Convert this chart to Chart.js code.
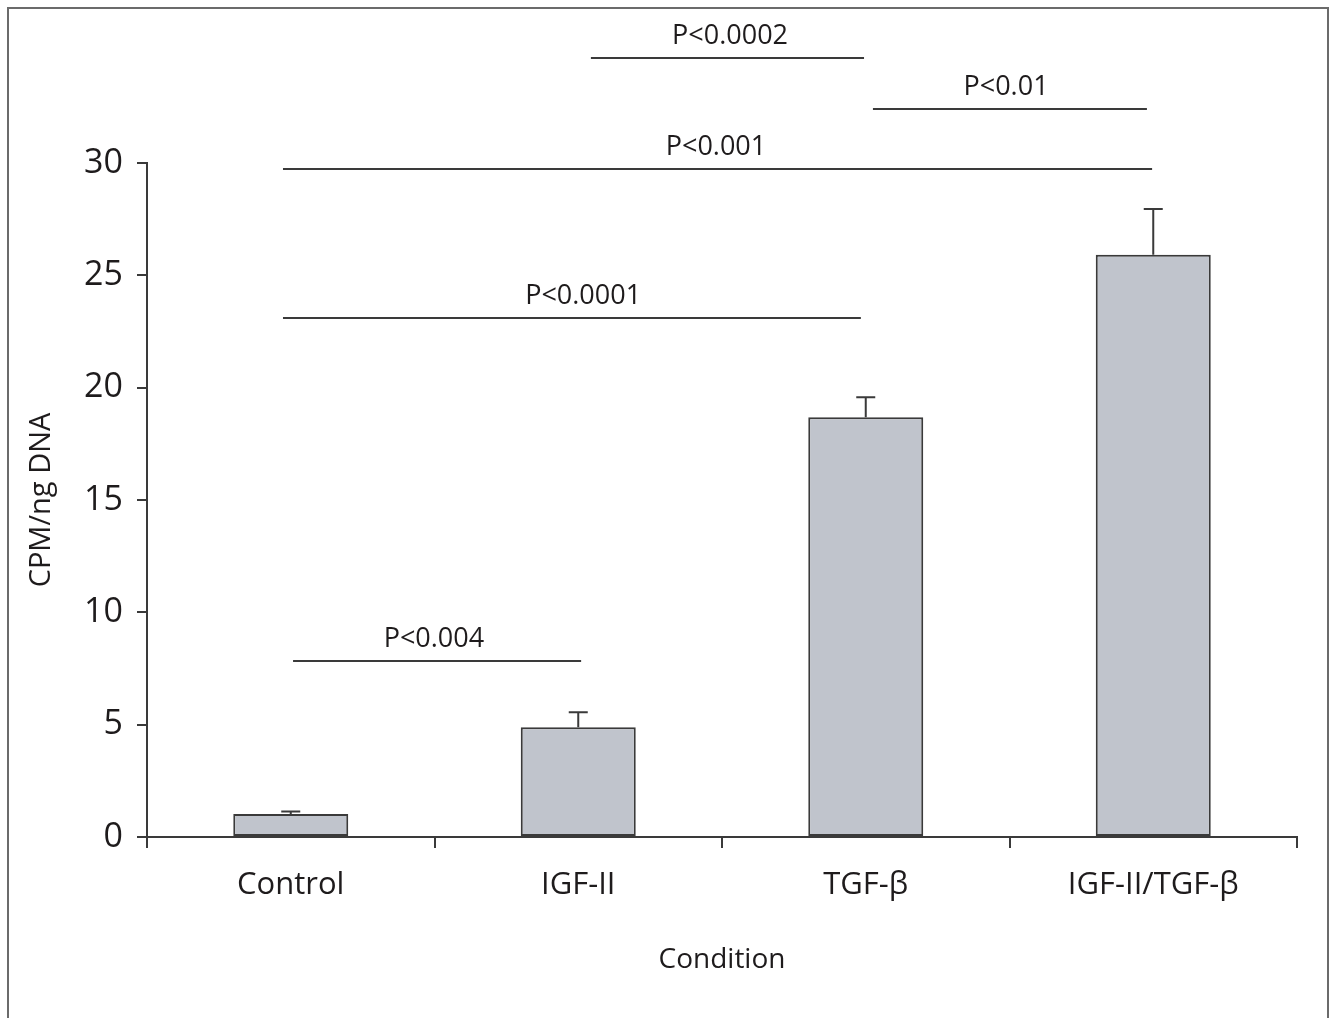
<!DOCTYPE html>
<html>
<head>
<meta charset="utf-8">
<title>CPM/ng DNA by condition</title>
<script src="https://cdn.jsdelivr.net/npm/chart.js@4/dist/chart.umd.min.js"></script>
<style>
  html, body { margin: 0; padding: 0; background: #ffffff; }
  #wrap { width: 1336px; height: 1018px; position: relative; }
</style>
</head>
<body>
<div id="wrap"><canvas id="c"></canvas></div>
<script>
// Conditions and measured means (CPM per ng DNA) with their upper error (SEM)
const conditions = ['Control', 'IGF-II', 'TGF-\u03B2', 'IGF-II/TGF-\u03B2'];
const means = [1.02, 4.88, 18.68, 25.92];
const sem = [0.12, 0.67, 0.89, 2.03];

// Significance brackets: start/end in category units, height in data units
const bracketLabels = ['P<0.004', 'P<0.0001', 'P<0.001', 'P<0.01', 'P<0.0002'];
const bracketFrom = [0.008, -0.027, -0.027, 2.025, 1.044];
const bracketTo = [1.010, 1.983, 2.996, 2.978, 1.994];
const bracketLevel = [7.83, 23.10, 29.75, 32.39, 34.69];
const bracketLabelAt = [0.498, 1.017, 1.479, 2.488, 1.528];

const yTicks = [0, 5, 10, 15, 20, 25, 30];

const FONT = '"Open Sans", "Noto Sans", sans-serif';
const INK = '#1e1b1c';
const LINE = '#3a3a3a';

const framePlugin = {
  id: 'frame',
  beforeDraw(chart) {
    const ctx = chart.ctx;
    ctx.save();
    ctx.fillStyle = '#ffffff';
    ctx.fillRect(0, 0, chart.width, chart.height);
    ctx.strokeStyle = '#6b6b6b';
    ctx.lineWidth = 2;
    ctx.strokeRect(8, 8, 1320, 1030);
    ctx.restore();
  }
};

const annotationsPlugin = {
  id: 'errorsAndBrackets',
  afterDatasetsDraw(chart) {
    const ctx = chart.ctx;
    const x = chart.scales.x;
    const y = chart.scales.y;
    const meta = chart.getDatasetMeta(0);
    ctx.save();
    ctx.strokeStyle = LINE;
    ctx.lineWidth = 2;
    // upper error whiskers with caps
    meta.data.forEach((bar, i) => {
      const top = y.getPixelForValue(means[i]);
      const tip = y.getPixelForValue(means[i] + sem[i]);
      ctx.beginPath();
      ctx.moveTo(bar.x, top);
      ctx.lineTo(bar.x, tip);
      ctx.moveTo(bar.x - 9.5, tip);
      ctx.lineTo(bar.x + 9.5, tip);
      ctx.stroke();
    });
    // comparison lines with p-values
    ctx.font = '27px ' + FONT;
    ctx.fillStyle = INK;
    ctx.textAlign = 'center';
    ctx.textBaseline = 'alphabetic';
    bracketLabels.forEach((label, i) => {
      const py = Math.round(y.getPixelForValue(bracketLevel[i]));
      const x0 = x.getPixelForValue(bracketFrom[i]);
      const x1 = x.getPixelForValue(bracketTo[i]);
      ctx.beginPath();
      ctx.moveTo(x0, py);
      ctx.lineTo(x1, py);
      ctx.stroke();
      ctx.fillText(label, x.getPixelForValue(bracketLabelAt[i]), py - 14);
    });
    ctx.restore();
  }
};

new Chart(document.getElementById('c'), {
  type: 'bar',
  data: {
    labels: conditions,
    datasets: [{
      data: means,
      backgroundColor: '#c0c4cc',
      borderColor: LINE,
      borderWidth: 2,
      borderSkipped: false,
      categoryPercentage: 1.0,
      barPercentage: 0.4
    }]
  },
  options: {
    responsive: true,
    maintainAspectRatio: false,
    animation: false,
    events: [],
    layout: { padding: { top: 163, right: 39, left: 0, bottom: 0 } },
    plugins: {
      legend: { display: false },
      tooltip: { enabled: false },
      title: { display: false }
    },
    scales: {
      x: {
        afterFit(scale) { scale.height = 181; },
        grid: {
          offset: true,
          drawOnChartArea: false,
          drawTicks: true,
          tickLength: 11,
          color: LINE,
          lineWidth: 2
        },
        border: { display: true, color: LINE, width: 2 },
        ticks: {
          padding: 19,
          color: INK,
          font: { family: FONT, size: 31 }
        },
        title: {
          display: true,
          text: 'Condition',
          color: INK,
          font: { family: FONT, size: 28 },
          padding: { top: 0, bottom: 41 }
        }
      },
      y: {
        min: 0,
        max: 30,
        afterFit(scale) { scale.width = 147; },
        afterBuildTicks(scale) { scale.ticks = yTicks.map(v => ({ value: v })); },
        grid: {
          drawOnChartArea: false,
          drawTicks: true,
          tickLength: 10,
          color: LINE,
          lineWidth: 2
        },
        border: { display: true, color: LINE, width: 2 },
        ticks: {
          padding: 14,
          color: INK,
          font: { family: FONT, size: 34 }
        },
        title: {
          display: true,
          text: 'CPM/ng DNA',
          color: INK,
          font: { family: FONT, size: 29 },
          padding: { top: 24, bottom: 0 }
        }
      }
    }
  },
  plugins: [framePlugin, annotationsPlugin]
});
</script>
</body>
</html>
